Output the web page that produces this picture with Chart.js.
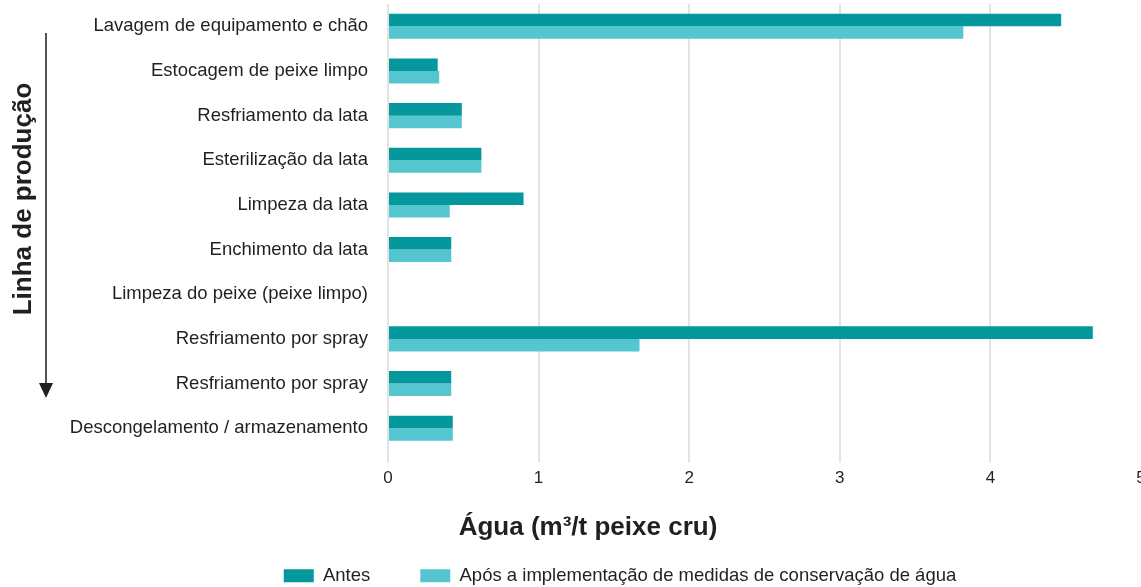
<!DOCTYPE html>
<html>
<head>
<meta charset="utf-8">
<script src="https://cdn.jsdelivr.net/npm/chart.js@4.4.1/dist/chart.umd.min.js"></script>
<style>
  html, body { margin: 0; padding: 0; overflow: hidden; background: #fff; }
  .wrap { position: absolute; left: 0; top: 0; width: 1141px; height: 595px; }
</style>
</head>
<body>
<div class="wrap"><canvas id="chart"></canvas></div>
<script>
// etapas da linha de produção (de cima para baixo)
const categories = [
  "Lavagem de equipamento e chão",
  "Estocagem de peixe limpo",
  "Resfriamento da lata",
  "Esterilização da lata",
  "Limpeza da lata",
  "Enchimento da lata",
  "Limpeza do peixe (peixe limpo)",
  "Resfriamento por spray",
  "Resfriamento por spray",
  "Descongelamento / armazenamento"
];
const antes = [4.47, 0.33, 0.49, 0.62, 0.90, 0.42, null, 4.68, 0.42, 0.43];
const apos  = [3.82, 0.34, 0.49, 0.62, 0.41, 0.42, null, 1.67, 0.42, 0.43];
const xTicks = [0, 1, 2, 3, 4, 5];

const FONT = "'Liberation Sans', Arial, Helvetica, sans-serif";
const TEXT = "#231f20";

// titulo vertical com seta + titulo do eixo x
const decorations = {
  id: "decorations",
  afterLayout(chart) {
    // legenda deslocada para a direita como no original
    chart.legend.left = 99;
  },
  afterDraw(chart) {
    const ctx = chart.ctx;
    const area = chart.chartArea;
    ctx.save();
    ctx.fillStyle = TEXT;
    ctx.strokeStyle = "#1a1a1a";

    // Linha de produção
    ctx.translate(24, 199);
    ctx.rotate(-Math.PI / 2);
    ctx.font = "bold 26px " + FONT;
    ctx.textAlign = "center";
    ctx.textBaseline = "middle";
    ctx.fillText("Linha de produção", 0, 0);
    ctx.setTransform(1, 0, 0, 1, 0, 0);

    // seta
    ctx.lineWidth = 1.5;
    ctx.beginPath();
    ctx.moveTo(46, 33);
    ctx.lineTo(46, 386);
    ctx.stroke();
    ctx.beginPath();
    ctx.moveTo(39, 383);
    ctx.lineTo(53, 383);
    ctx.lineTo(46, 398);
    ctx.closePath();
    ctx.fill();

    // titulo do eixo x
    ctx.font = "bold 26px " + FONT;
    ctx.textAlign = "center";
    ctx.textBaseline = "middle";
    ctx.fillText("Água (m³/t peixe cru)", area.left + 200, 528);
    ctx.restore();
  }
};

const chart = new Chart(document.getElementById("chart"), {
  type: "bar",
  data: {
    labels: categories,
    datasets: [
      {
        label: "Antes",
        data: antes,
        backgroundColor: "#04989d",
        categoryPercentage: 0.56,
        barPercentage: 1
      },
      {
        label: "Após a implementação de medidas de conservação de água",
        data: apos,
        backgroundColor: "#55c5cf",
        categoryPercentage: 0.56,
        barPercentage: 1
      }
    ]
  },
  options: {
    indexAxis: "y",
    responsive: true,
    maintainAspectRatio: false,
    animation: false,
    layout: { padding: { left: 0, top: 4, right: 0, bottom: 0 } },
    plugins: {
      tooltip: { enabled: false },
      legend: {
        position: "bottom",
        labels: {
          boxWidth: 30,
          boxHeight: 13,
          padding: 50,
          color: TEXT,
          font: { family: FONT, size: 18.5 }
        }
      }
    },
    scales: {
      x: {
        min: 0,
        max: 5,
        afterBuildTicks: (scale) => {
          scale.ticks = xTicks.map(v => ({ value: v }));
        },
        afterFit: (scale) => {
          scale.height = 66;
          scale.paddingRight = 0;
        },
        border: { display: false },
        grid: {
          // sem linha de grade no 5
          color: (c) => (c.tick && c.tick.value === 5) ? "rgba(0,0,0,0)" : "#e3e3e3",
          lineWidth: 2,
          tickLength: 12
        },
        ticks: {
          padding: 6,
          color: TEXT,
          maxRotation: 0,
          font: { family: FONT, size: 17 }
        }
      },
      y: {
        afterFit: (scale) => {
          scale.width = 388;
          scale.paddingTop = 0;
          scale.paddingBottom = 0;
        },
        border: { display: false },
        grid: { display: false },
        ticks: {
          padding: 12,
          color: TEXT,
          font: { family: FONT, size: 18.5 }
        }
      }
    }
  },
  plugins: [decorations]
});
</script>
</body>
</html>
